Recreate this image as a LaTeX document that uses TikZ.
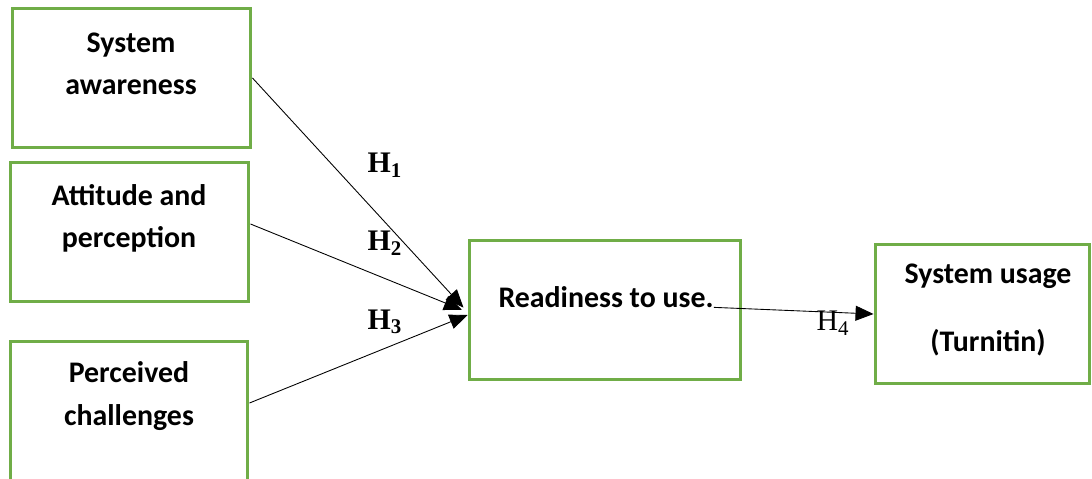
\documentclass[tikz,border=0pt]{standalone}
\usepackage{fontspec}
\setmainfont{Carlito}
\newfontfamily\hfont{Liberation Serif}
\usetikzlibrary{arrows.meta}
\definecolor{boxgreen}{RGB}{112,173,71}

\begin{document}
\begin{tikzpicture}[x=0.02cm, y=-0.02cm,
  box/.style={draw=boxgreen, line width=0.06cm, minimum width=4.78cm, minimum height=2.8cm, inner sep=0},
  lbl/.style={inner sep=0, align=center, font=\fontsize{17}{24}\selectfont\bfseries},
  hyp/.style={inner sep=0, font=\fontsize{17}{20}\selectfont\hfont},
  link/.style={line width=0.5pt, -{Triangle[length=0.36cm, width=0.3cm]}}]
\useasboundingbox (0,0) rectangle (1092,479);

% Factors
\node[box] (b1) at (131.5,78) {};
\node[box] (b2) at (129.5,232) {};
\node[box, minimum width=4.76cm] (b3) at (129,411) {};
\node[lbl] (t1) at (131,64) {System\\awareness};
\node[lbl] (t2) at (129,218) {Attitude and\\perception};
\node[lbl] (t3) at (129,396) {Perceived\\challenges};

% Readiness and usage
\node[box, minimum width=5.44cm] (r) at (605,310) {};
\node[lbl] (rt) at (606,297) {Readiness to use.};
\node[box, minimum width=4.3cm] (u) at (982.5,314) {};
\node[lbl] (ut) at (988,310) {System usage\\[0.5cm](Turnitin)};

% Hypotheses
\draw[link, shorten >=0.12cm] (b1.east) -- ([yshift=-0.04cm]r.west);
\draw[link, shorten >=0.12cm] ([yshift=0.16cm]b2.east) -- ([yshift=-0.04cm]r.west);
\draw[link] ([yshift=0.16cm]b3.east) -- ([yshift=-0.1cm]r.west);
\draw[link] (rt.base east) -- (u.west);

\node[hyp] (h1) at (385,165) {\textbf{H}\textsubscript{\textbf{1}}};
\node[hyp] (h2) at (385,243) {\textbf{H}\textsubscript{\textbf{2}}};
\node[hyp] (h3) at (385,322) {\textbf{H}\textsubscript{\textbf{3}}};
\node[hyp] (h4) at (833,323) {H\textsubscript{4}};
\end{tikzpicture}
\end{document}
